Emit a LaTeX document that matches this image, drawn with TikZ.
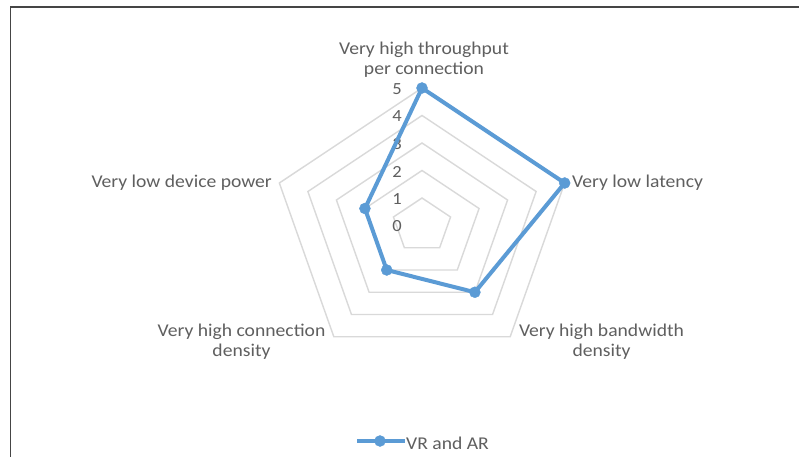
\documentclass[tikz,border=0pt]{standalone}
\usepackage{fontspec}
\setmainfont{Carlito}[FakeStretch=1.09]
\begin{document}
\begin{tikzpicture}[x=1pt,y=-1pt,
  grid/.style={draw=gridgray,line width=1.4pt,line join=miter},
  series/.style={draw=serblue,line width=4pt,line join=round},
  dot/.style={circle,fill=serblue,draw=serblue,inner sep=0pt,minimum size=11pt},
  lbl/.style={text=txtgray,inner sep=0pt,font=\fontsize{18}{20}\selectfont},
  tick/.style={text=txtgray,inner sep=0pt,font=\fontsize{17}{17}\selectfont},
  frame/.style={draw=framegray,line width=1.3pt}]
\definecolor{gridgray}{HTML}{D9D9D9}
\definecolor{serblue}{HTML}{5B9BD5}
\definecolor{txtgray}{HTML}{5F5F5F}
\definecolor{framegray}{HTML}{454545}

\useasboundingbox (0,0) rectangle (799,457);
\fill[white] (0,0) rectangle (799,457);

% chart frame (top and left edges)
\draw[frame] (799,7) -- (10.5,7) -- (10.5,457);

% radar geometry: centre and per-unit radii
\def\cx{422}\def\cy{225.5}\def\ux{30}\def\uy{27.5}

% concentric pentagon gridlines for levels 1..5
\foreach \k in {1,...,5}{
  \draw[grid] ({\cx+\k*\ux*cos(90)},{\cy-\k*\uy*sin(90)})
    -- ({\cx+\k*\ux*cos(18)},{\cy-\k*\uy*sin(18)})
    -- ({\cx+\k*\ux*cos(-54)},{\cy-\k*\uy*sin(-54)})
    -- ({\cx+\k*\ux*cos(-126)},{\cy-\k*\uy*sin(-126)})
    -- ({\cx+\k*\ux*cos(162)},{\cy-\k*\uy*sin(162)}) -- cycle;
}

% value axis labels
\foreach \k in {0,...,5}{
  \node[tick] (t\k) at (397,{\cy-\k*\uy+1}) {\k};
}

% data points: 5, 5, 3, 2, 2
\coordinate (p1) at ({\cx+5*\ux*cos(90)},{\cy-5*\uy*sin(90)});
\coordinate (p2) at ({\cx+5*\ux*cos(18)},{\cy-5*\uy*sin(18)});
\coordinate (p3) at ({\cx+3*\ux*cos(-54)},{\cy-3*\uy*sin(-54)});
\coordinate (p4) at ({\cx+2*\ux*cos(-126)},{\cy-2*\uy*sin(-126)});
\coordinate (p5) at ({\cx+2*\ux*cos(162)},{\cy-2*\uy*sin(162)});

\draw[series] (p1) -- (p2) -- (p3) -- (p4) -- (p5) -- cycle;
\foreach \p in {p1,p2,p3,p4,p5}{
  \node[dot] (m\p) at (\p) {};
}

% category labels (base anchor sits on the last line)
\node[lbl,align=center,anchor=base] (lthr) at (424,75)
  {Very high throughput\\per connection};
\node[lbl,anchor=base west] (llat) at (572,187) {Very low latency};
\node[lbl,align=center,anchor=base] (lbw) at (601.5,356.5)
  {Very high bandwidth\\density};
\node[lbl,align=center,anchor=base] (lcd) at (241.5,356.5)
  {Very high connection\\density};
\node[lbl,anchor=base east] (lpow) at (272,187) {Very low device power};

% legend
\coordinate (lgA) at (357,441);
\coordinate (lgB) at (405,441);
\draw[series] (lgA) -- (lgB);
\node[dot] (lgm) at (380,441) {};
\node[lbl,anchor=base west] (lgt) at (406,449) {VR and AR};
\end{tikzpicture}
\end{document}
